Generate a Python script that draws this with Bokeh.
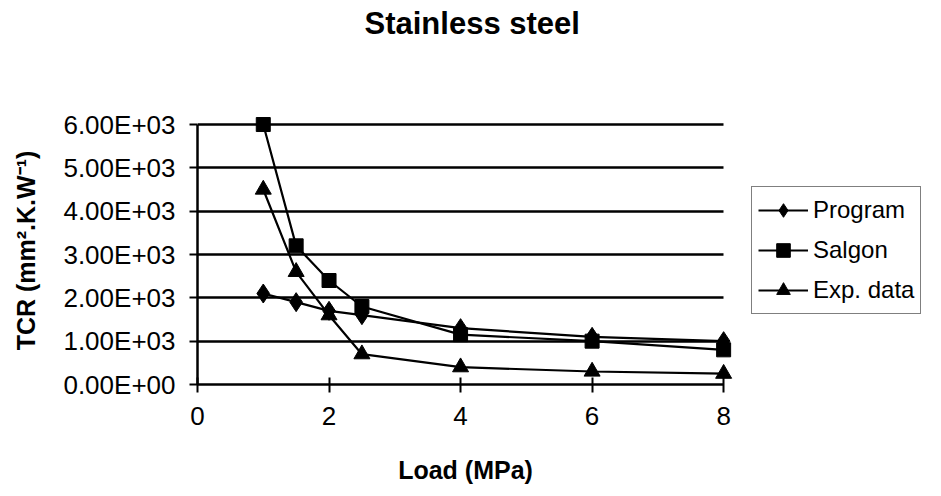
from bokeh.plotting import figure
from bokeh.models import ColumnDataSource, Range1d, FixedTicker, Legend, LegendItem, Title
from bokeh.embed import file_html
from bokeh.resources import INLINE

# ---- data ----
load = [1, 1.5, 2, 2.5, 4, 6, 8]
program = [2100, 1900, 1700, 1600, 1300, 1100, 1000]
salgon = [6000, 3200, 2400, 1800, 1150, 1000, 800]
exp_data = [4500, 2600, 1600, 700, 400, 300, 250]

series_names = ["Program", "Salgon", "Exp. data"]
x_ticks = [0, 2, 4, 6, 8]
y_ticks = [0, 1000, 2000, 3000, 4000, 5000, 6000]
y_tick_labels = ["0.00E+00", "1.00E+03", "2.00E+03", "3.00E+03",
                 "4.00E+03", "5.00E+03", "6.00E+03"]

FONT = "Liberation Sans"

p = figure(frame_width=536, frame_height=268,
           x_range=Range1d(0, 8.15), y_range=Range1d(0, 6185),
           output_backend="svg", toolbar_location=None,
           min_border_left=197, min_border_right=208,
           min_border_top=116, min_border_bottom=112)
p.outline_line_color = None
p.background_fill_color = "white"
p.border_fill_color = "white"

# spacer between frame and title (pushes the title to the top of the page)
spacer = Title(text=" ", text_font_size="2px", standoff=70)
p.add_layout(spacer, "above")

# title
p.title.text = "Stainless steel"
p.title.align = "left"
p.title.offset = 167
p.title.text_font = FONT
p.title.text_font_size = "31px"
p.title.text_font_style = "bold"
p.title.text_color = "black"
p.title.standoff = 4

# x axis
xa = p.xaxis[0]
xa.ticker = FixedTicker(ticks=x_ticks)
xa.bounds = (0, 8)
xa.axis_line_color = "black"
xa.axis_line_width = 2.5
xa.major_tick_line_color = "black"
xa.major_tick_line_width = 2
xa.major_tick_in = 7
xa.major_tick_out = 8
xa.minor_tick_line_color = None
xa.major_label_text_font = FONT
xa.major_label_text_font_size = "26px"
xa.major_label_text_color = "black"
xa.major_label_standoff = 14
xa.axis_label = "Load (MPa)"
xa.axis_label_text_font = FONT
xa.axis_label_text_font_size = "25px"
xa.axis_label_text_font_style = "bold"
xa.axis_label_text_color = "black"
xa.axis_label_standoff = 28

# y axis
ya = p.yaxis[0]
ya.ticker = FixedTicker(ticks=y_ticks)
ya.major_label_overrides = {t: s for t, s in zip(y_ticks, y_tick_labels)}
ya.bounds = (0, 6000)
ya.axis_line_color = "black"
ya.axis_line_width = 2.5
ya.major_tick_line_color = "black"
ya.major_tick_line_width = 2
ya.major_tick_in = 0
ya.major_tick_out = 8
ya.minor_tick_line_color = None
ya.major_label_text_font = FONT
ya.major_label_text_font_size = "26px"
ya.major_label_text_color = "black"
ya.major_label_standoff = 14
ya.axis_label = "TCR (mm\u00b2.K.W\u207b\u00b9)"
ya.axis_label_text_font = FONT
ya.axis_label_text_font_size = "25px"
ya.axis_label_text_font_style = "bold"
ya.axis_label_text_color = "black"
ya.axis_label_standoff = 20

# grid
p.xgrid.visible = False
yg = p.ygrid[0]
yg.ticker = FixedTicker(ticks=y_ticks)
yg.grid_line_color = "black"
yg.grid_line_width = 2.5
yg.cross_bounds = (0, 8)

src = ColumnDataSource(dict(load=load, program=program, salgon=salgon, exp=exp_data))

styles = [
    ("program", "diamond", 19),
    ("salgon", "square", 14),
    ("exp", "triangle", 16),
]

items = []
for (col, marker, size), name in zip(styles, series_names):
    ln = p.line("load", col, source=src, line_color="black", line_width=2.2)
    sc = p.scatter("load", col, source=src, marker=marker, size=size,
                   fill_color="black", line_color="black")
    items.append(LegendItem(label=name, renderers=[ln, sc]))

legend = Legend(items=items, location="center_left")
legend.border_line_color = "black"
legend.border_line_width = 1.5
legend.background_fill_color = "white"
legend.background_fill_alpha = 1
legend.label_text_font = FONT
legend.label_text_font_size = "24px"
legend.label_text_color = "black"
legend.glyph_width = 50
legend.glyph_height = 34
legend.label_height = 34
legend.padding = 6
legend.spacing = 6
legend.label_standoff = 5
legend.margin = 18
p.add_layout(legend, "right")

open("out.html", "w").write(file_html(p, INLINE))
